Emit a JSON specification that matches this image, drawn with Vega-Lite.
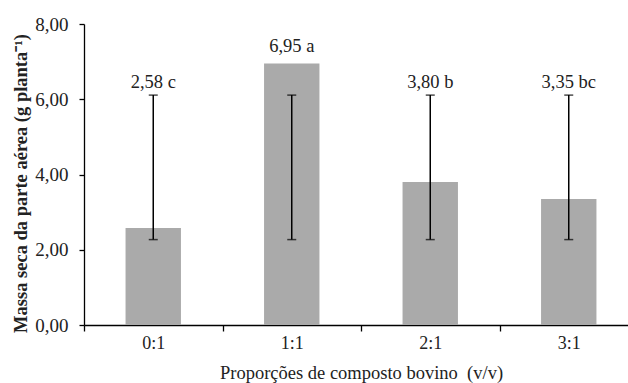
{
  "$schema": "https://vega.github.io/schema/vega-lite/v6.json",
  "autosize": "none",
  "padding": {"left": 84, "top": 24, "right": 0, "bottom": 58},
  "width": 554,
  "height": 301,
  "background": "white",
  "config": {"view": {"stroke": null}, "font": "Liberation Serif"},
  "data": {"values": [
    {"prop": "0:1", "value": 2.58, "lower": 2.27, "upper": 6.11, "label": "2,58 c"},
    {"prop": "1:1", "value": 6.95, "lower": 2.27, "upper": 6.11, "label": "6,95 a"},
    {"prop": "2:1", "value": 3.80, "lower": 2.27, "upper": 6.11, "label": "3,80 b"},
    {"prop": "3:1", "value": 3.35, "lower": 2.27, "upper": 6.11, "label": "3,35 bc"}
  ]},
  "encoding": {
    "x": {
      "field": "prop", "type": "nominal", "sort": null,
      "scale": {"paddingInner": 0, "paddingOuter": 0},
      "axis": {
        "title": "Proporções de composto bovino\u00a0 (v/v)",
        "labelAngle": 0, "tickBand": "extent", "tickSize": 6, "labelPadding": 3,
        "labelFontSize": 18, "titleFontSize": 18.5, "titleFontWeight": "normal",
        "titleBaseline": "alphabetic", "titleY": 53,
        "domainColor": "#000", "domainWidth": 1.3, "tickColor": "#000", "tickWidth": 1.3,
        "labelColor": "#222", "titleColor": "#222"
      }
    }
  },
  "layer": [
    {
      "mark": {"type": "bar", "color": "#aaaaaa", "width": {"band": 0.4}},
      "encoding": {
        "y": {
          "field": "value", "type": "quantitative",
          "scale": {"domain": [0, 8], "nice": false},
          "axis": {
            "title": "Massa seca da parte aérea (g planta⁻¹)",
            "values": [0, 2, 4, 6, 8], "grid": false,
            "labelExpr": "replace(format(datum.value, '.2f'), '.', ',')",
            "tickSize": 5, "labelPadding": 11, "labelFontSize": 19,
            "titleFontSize": 18.5, "titleFontWeight": "bold",
            "titleX": -64, "titleY": 159, "titleBaseline": "middle", "titleAlign": "center",
            "domainColor": "#000", "domainWidth": 1.3, "tickColor": "#000", "tickWidth": 1.3,
            "labelColor": "#222", "titleColor": "#222"
          }
        }
      }
    },
    {
      "mark": {"type": "rule", "color": "#000", "strokeWidth": 1.5},
      "encoding": {
        "y": {"field": "lower", "type": "quantitative"},
        "y2": {"field": "upper"}
      }
    },
    {
      "mark": {"type": "tick", "color": "#000", "size": 9, "thickness": 1.5},
      "encoding": {"y": {"field": "upper", "type": "quantitative"}}
    },
    {
      "mark": {"type": "tick", "color": "#000", "size": 9, "thickness": 1.5},
      "encoding": {"y": {"field": "lower", "type": "quantitative"}}
    },
    {
      "transform": [{"filter": "datum.value > datum.upper"}],
      "mark": {"type": "text", "fontSize": 18.5, "baseline": "alphabetic", "dy": -12, "color": "#222"},
      "encoding": {
        "y": {"field": "value", "type": "quantitative"},
        "text": {"field": "label"}
      }
    },
    {
      "transform": [{"filter": "datum.value <= datum.upper"}],
      "mark": {"type": "text", "fontSize": 18.5, "baseline": "alphabetic", "dy": -7, "color": "#222"},
      "encoding": {
        "y": {"field": "upper", "type": "quantitative"},
        "text": {"field": "label"}
      }
    }
  ]
}
